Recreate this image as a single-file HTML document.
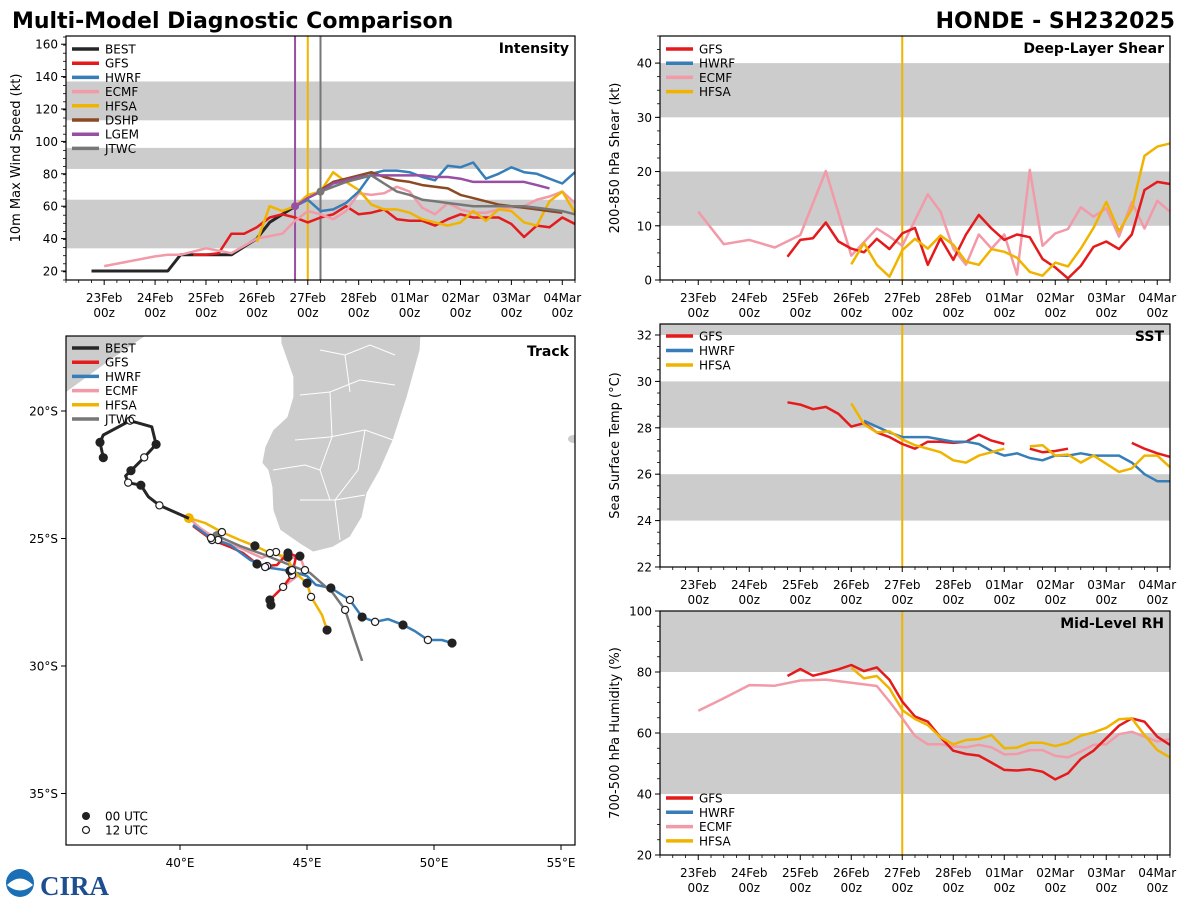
<!DOCTYPE html>
<html><head><meta charset="utf-8"><title>Multi-Model Diagnostic Comparison</title>
<style>
html,body{margin:0;padding:0;background:#fff;}
svg{display:block;font-family:"DejaVu Sans","Liberation Sans",sans-serif;}
</style></head>
<body>
<svg id="chart" xmlns="http://www.w3.org/2000/svg" width="1200" height="900" viewBox="0 0 1200 900">
<rect x="0" y="0" width="1200" height="900" fill="#fff"/>
<text x="12" y="28" font-size="22" font-weight="bold" fill="#000">Multi-Model Diagnostic Comparison</text>
<text x="1175" y="28" font-size="22" font-weight="bold" fill="#000" text-anchor="end">HONDE - SH232025</text>
<g>
<circle cx="20" cy="883" r="14" fill="#1a6fb5"/>
<path d="M7,885 Q20,872 33,885 Q20,896 7,885Z" fill="#fff"/>
<text x="40" y="895" font-size="27" font-weight="bold" fill="#1d4e8f" font-family="Liberation Serif, serif">CIRA</text>
</g>
</svg>
<script>
// ---------- shared time axis ----------
const dayLabels = ['23Feb','24Feb','25Feb','26Feb','27Feb','28Feb','01Mar','02Mar','03Mar','04Mar'];
const hourLabel = '00z';
// ---------- intensity (kt) ----------
const bestIntStart = -1;
const bestInt = [20,20,20,20,20,20,20,30,30,30,30,30,35,40,50,55,60];
const gfsIntStart = 7;
const gfsInt = [30,30,31,43,43,47,53,55,53,50,53,55,60,55,56,58,52,51,51,48,52,55,53,53,53,49,41,48,47,53,49];
const hwrfIntStart = 15;
const hwrfInt = [60,64,57,58,62,69,80,82,82,81,78,76,85,84,87,77,80,84,81,80,77,74,81];
const ecmfIntTimes = [0,4,5,6,8,10,12,14,15,16,17,18,19,20,21,22,23,24,25,26,27,28,29,30,31,32,33,34,35,36,37];
const ecmfInt = [23,29,30,30,34,31,40,43,51,57,55,52,57,68,67,68,72,69,59,55,62,58,56,56,58,59,60,64,66,69,62];
const hfsaIntStart = 12;
const hfsaInt = [38,60,57,60,67,69,81,75,70,61,58,58,56,52,50,48,50,57,51,58,57,50,48,63,69,56];
const dshpIntStart = 17;
const dshpInt = [70,75,77,79,81,78,76,75,73,72,71,67,65,63,61,60,59,58,57,56];
const lgemIntStart = 15;
const lgemInt = [60,65,69,74,76,78,79,79,79,79,79,78,78,77,75,75,75,75,75,73,71];
const jtwcIntStart = 17;
const jtwcInt = [69,72,75,77,79,74,69,67,64,63,62,61,60,60,60,60,60,59,58,57,55];
const intTicks = [20,40,60,80,100,120,140,160];
// ---------- shear (kt) ----------
const gfsShearStart = 7;
const gfsShear = [4.3,7.4,7.7,10.6,7.1,5.8,5.1,7.6,5.7,8.6,9.6,2.8,7.7,3.7,8.4,12,9.5,7.4,8.4,7.9,3.9,2.3,0.3,2.6,6.1,7.1,5.7,8.4,16.6,18.1,17.7];
const ecmfShearTimes = [0,2,4,6,8,10,12,14,15,16,18,19,20,21,22,23,24,25,26,27,28,29,30,31,32,33,34,35,36,37];
const ecmfShear = [12.6,6.6,7.4,6.0,8.3,20.1,4.5,9.5,8,6.3,15.8,12.6,5.8,2.8,8.4,5.8,8.4,1,20.3,6.3,8.6,9.4,13.4,11.7,13.2,8,14.4,9.5,14.6,12.6];
const hfsaShearStart = 12;
const hfsaShear = [2.9,6.8,2.8,0.6,5.5,7.6,5.8,8.2,6.5,3.4,2.8,5.7,5.2,4.1,1.5,0.8,3.2,2.5,5.8,9.6,14.4,9,13.1,22.9,24.6,25.2];
const shearTicks = [0,10,20,30,40];
// ---------- SST (C) ----------
const gfsSstStart = 7;
const gfsSst = [29.1,29.0,28.8,28.9,28.6,28.05,28.2,27.8,27.6,27.3,27.1,27.4,27.4,27.35,27.4,27.7,27.45,27.3,null,27.1,26.95,27.0,27.1,null,null,null,null,27.35,27.1,26.9,26.75];
const hwrfSstStart = 13;
const hwrfSst = [28.3,28.05,27.8,27.6,27.6,27.6,27.5,27.4,27.4,27.3,27.0,26.8,26.9,26.7,26.6,26.8,26.8,26.9,26.8,26.8,26.8,26.5,26.0,25.7,25.7];
const hfsaSstStart = 12;
const hfsaSst = [29.05,28.15,27.8,27.85,27.5,27.25,27.1,26.95,26.6,26.5,26.8,26.95,27.1,null,27.2,27.25,26.8,26.85,26.5,26.8,26.45,26.1,26.25,26.8,26.8,26.3];
const sstTicks = [22,24,26,28,30,32];
// ---------- RH (%) ----------
const gfsRhStart = 7;
const gfsRh = [78.7,81,78.8,79.8,80.9,82.3,80.3,81.5,77.4,70.3,65.4,63.7,58.6,54.2,53.1,52.6,50.3,47.9,47.7,48.1,47.3,44.8,46.8,51.5,54.2,58.3,62.4,64.8,63.7,58.8,56.1];
const ecmfRhTimes = [0,2,4,6,8,10,12,14,15,16,17,18,19,20,21,22,23,24,25,26,27,28,29,30,31,32,33,34,35,36,37];
const ecmfRh = [67.3,71.4,75.7,75.5,77.2,77.5,76.5,75.4,70.3,64.8,59,56.3,56.3,55.6,55.3,56.1,55.3,53,53.1,54.4,54.4,52.5,52,53.9,56.1,56.3,59.6,60.4,58.8,57.2,58];
const hfsaRhStart = 12;
const hfsaRh = [81.4,77.9,78.7,74.6,67.5,64.6,62.6,58.6,56.3,57.7,58,59.3,55,55.2,56.8,56.8,55.7,56.8,59.1,60.2,61.7,64.5,64.8,59.3,54.4,52];
const rhTicks = [20,40,60,80,100];
// ---------- track (lon E, lat S) ----------
const bestLon = [36.98,36.85,36.98,38.03,38.89,39.06,38.59,38.07,37.86,37.96,38.46,38.75,39.19,40.35];
const bestLat = [21.83,21.23,20.94,20.38,20.62,21.31,21.82,22.34,22.54,22.81,22.91,23.36,23.70,24.21];
const bestMark = ['f','f','','o','','f','o','f','','o','f','','o',''];
const gfsLon = [40.51,41.26,41.97,42.48,42.83,43.03,43.43,43.82,44.25,44.57,44.41,44.06,43.54,43.58];
const gfsLat = [24.51,25.06,25.33,25.57,25.84,26.00,26.08,26.04,25.57,25.69,26.43,26.90,27.41,27.61];
const gfsMark = ['', 'o','','','','f','o','','f','','o','','f','f'];
const hwrfLon = [40.51,41.22,41.97,42.76,43.35,44.33,45.0,45.35,45.94,46.69,47.17,47.68,48.19,48.78,49.25,49.76,50.31,50.71];
const hwrfLat = [24.47,24.98,25.25,25.84,26.12,26.27,26.47,26.82,26.94,27.41,28.08,28.27,28.16,28.39,28.63,28.98,28.98,29.1];
const hwrfMark = ['','o','','','o','f','','','f','o','f','o','','f','','o','','f'];
const ecmfLon = [40.35,40.79,41.5,42.36,43.23,43.78,44.13,44.72,44.92,44.06,43.62];
const ecmfLat = [24.2,24.59,25.06,25.37,25.76,25.53,25.84,25.69,26.24,26.9,27.33];
const ecmfMark = ['','','o','','','o','','f','o','o',''];
const hfsaLon = [40.35,40.98,41.65,42.36,42.95,43.54,44.25,44.41,45.0,45.16,45.59,45.79];
const hfsaLat = [24.2,24.39,24.75,25.06,25.29,25.57,25.73,26.24,26.75,27.29,28.0,28.59];
const hfsaMark = ['','','o','','f','o','f','o','f','o','','f'];
const jtwcLon = [41.46,42.36,43.35,44.33,45.12,46.02,46.5,46.89,47.17];
const jtwcLat = [24.9,25.29,25.65,26.04,26.35,27.14,27.8,28.98,29.8];
const jtwcMark = ['','','','','','','o','',''];
const lonTicks = [40,45,50,55];
const latTicks = [20,25,30,35];

const NS = 'http://www.w3.org/2000/svg';
const svg = document.getElementById('chart');
function mk(tag, attrs, parent){
  const e = document.createElementNS(NS, tag);
  for (const k in attrs) e.setAttribute(k, attrs[k]);
  (parent || svg).appendChild(e);
  return e;
}
const COL = {BEST:'#262626',GFS:'#e41a1c',HWRF:'#377eb8',ECMF:'#f29aa8',HFSA:'#f0b400',DSHP:'#8c4a22',LGEM:'#984ea3',JTWC:'#777777'};
const T0 = -3, T1 = 37;

function seriesPts(values, start, times){
  return values.map((v,i)=>({t: times ? times[i] : start + i, v:v}));
}

function tsPanel(cfg){
  const g = mk('g', {});
  
  
  const X = t => cfg.x0 + (t - T0) / (T1 - T0) * (cfg.x1 - cfg.x0);
  const Y = v => cfg.y1 - (v - cfg.ymin) / (cfg.ymax - cfg.ymin) * (cfg.y1 - cfg.y0);
  // bands
  cfg.bands.forEach(b=>{
    const top = Math.max(Y(b[1]), cfg.y0), bot = Math.min(Y(b[0]), cfg.y1);
    const r = mk('rect', {x:cfg.x0, y:top, width:cfg.x1-cfg.x0, height:bot-top, fill:'#cccccc'}, g);
    
    
  });
  // vertical lines
  cfg.vlines.forEach(vl=>{
    const l = mk('line', {x1:X(vl.t), x2:X(vl.t), y1:cfg.y0, y2:cfg.y1, stroke:vl.c, 'stroke-width':2}, g);
    
    
  });
  // series
  cfg.series.forEach(s=>{
    const pts = seriesPts(s.values, s.start, s.times);
    let d = '', pen = false;
    pts.forEach(p=>{
      if (p.v === null) { pen = false; return; }
      d += (pen ? 'L' : 'M') + X(p.t).toFixed(1) + ',' + Y(p.v).toFixed(1);
      pen = true;
    });
    const path = mk('path', {d:d, fill:'none', stroke:COL[s.id], 'stroke-width': s.id==='BEST'?3:2.5, 'stroke-linejoin':'round'}, g);
    
    
    if (s.dot){
      const p0 = pts[0];
      const c = mk('circle', {cx:X(p0.t), cy:Y(p0.v), r:4, fill:COL[s.id]}, g);
      
      
    }
  });
  // frame
  const fr = mk('rect', {x:cfg.x0, y:cfg.y0, width:cfg.x1-cfg.x0, height:cfg.y1-cfg.y0, fill:'none', stroke:'#000', 'stroke-width':1.2}, g);
  
  
  // y ticks
  cfg.yticks.forEach(v=>{
    const y = Y(v);
    const tl = mk('line', {x1:cfg.x0-5, x2:cfg.x0, y1:y, y2:y, stroke:'#000', 'stroke-width':1}, g);
    
    
    const tx = mk('text', {x:cfg.x0-8, y:y+4.5, 'font-size':12, 'text-anchor':'end', fill:'#000'}, g);
    
    
    tx.textContent = v;
  });
  for (let v = cfg.ymin; v <= cfg.ymax + 1e-6; v += cfg.minor){
    const y = Y(v);
    if (y < cfg.y0 - 0.5) continue;
    const ml = mk('line', {x1:cfg.x0-3, x2:cfg.x0, y1:y, y2:y, stroke:'#000', 'stroke-width':0.8}, g);
    
    
  }
  // x ticks
  for (let t = -3; t <= 37; t++){
    const major = t % 4 === 0 && t >= 0;
    const xl = mk('line', {x1:X(t), x2:X(t), y1:cfg.y1, y2:cfg.y1 + (major?5:3), stroke:'#000', 'stroke-width':major?1:0.8}, g);
    
    
  }
  dayLabels.forEach((lab,i)=>{
    const t = i*4;
    const a = mk('text', {x:X(t), y:cfg.y1+22, 'font-size':12, 'text-anchor':'middle', fill:'#000'}, g);
    
    
    a.textContent = lab;
    const b = mk('text', {x:X(t), y:cfg.y1+37, 'font-size':12, 'text-anchor':'middle', fill:'#000'}, g);
    
    
    b.textContent = hourLabel;
  });
  // y label
  const cy = (cfg.y0 + cfg.y1)/2;
  const yl = mk('text', {x:cfg.ylx, y:cy, 'font-size':13, 'text-anchor':'middle', fill:'#000', transform:'rotate(-90 '+cfg.ylx+' '+cy+')'}, g);
  
  
  yl.textContent = cfg.ylabel;
  // title
  const tt = mk('text', {x:cfg.x1-6, y:cfg.y0+17, 'font-size':14, 'font-weight':'bold', 'text-anchor':'end', fill:'#000'}, g);
  
  
  tt.textContent = cfg.title;
  // legend
  drawLegend(g, cfg.x0, cfg.legendY, cfg.legend, cfg.legendStep);
}

function drawLegend(g, x0, y, ids, step){
  const lg = mk('g', {}, g);
  
  
  ids.forEach((id,i)=>{
    const yy = y + i*step;
    const e = mk('g', {}, lg);
    
    
    const l = mk('line', {x1:x0+6, x2:x0+33, y1:yy, y2:yy, stroke:COL[id], 'stroke-width':3.5}, e);
    
    
    const t = mk('text', {x:x0+39, y:yy+4.5, 'font-size':12, fill:'#000'}, e);
    
    
    t.textContent = id;
  });
}

tsPanel({name:'intensity-panel', x0:66, x1:575, y0:36, y1:280, ymin:20-9/1.62, ymax:20+(271-36)/1.62,
  bands:[[34,64],[83,96],[113,137]], yticks:intTicks, minor:5, ylx:20, ylabel:'10m Max Wind Speed (kt)', title:'Intensity',
  vlines:[{t:15,c:COL.LGEM},{t:16,c:COL.HFSA},{t:17,c:COL.JTWC}],
  series:[
    {id:'BEST', values:bestInt, start:bestIntStart},
    {id:'GFS', values:gfsInt, start:gfsIntStart},
    {id:'ECMF', values:ecmfInt, times:ecmfIntTimes},
    {id:'HFSA', values:hfsaInt, start:hfsaIntStart},
    {id:'HWRF', values:hwrfInt, start:hwrfIntStart},
    {id:'DSHP', values:dshpInt, start:dshpIntStart},
    {id:'LGEM', values:lgemInt, start:lgemIntStart, dot:true},
    {id:'JTWC', values:jtwcInt, start:jtwcIntStart, dot:true}
  ],
  legend:['BEST','GFS','HWRF','ECMF','HFSA','DSHP','LGEM','JTWC'], legendY:49, legendStep:14.2});

tsPanel({name:'shear-panel', x0:660, x1:1170, y0:36, y1:280, ymin:0, ymax:45,
  bands:[[10,20],[30,40]], yticks:shearTicks, minor:2.5, ylx:619, ylabel:'200-850 hPa Shear (kt)', title:'Deep-Layer Shear',
  vlines:[{t:16,c:COL.HFSA}],
  series:[
    {id:'ECMF', values:ecmfShear, times:ecmfShearTimes},
    {id:'GFS', values:gfsShear, start:gfsShearStart},
    {id:'HFSA', values:hfsaShear, start:hfsaShearStart}
  ],
  legend:['GFS','HWRF','ECMF','HFSA'], legendY:49, legendStep:14.2});

tsPanel({name:'sst-panel', x0:660, x1:1170, y0:324, y1:567, ymin:22, ymax:22+(567-324)/23.2,
  bands:[[24,26],[28,30],[32,33]], yticks:sstTicks, minor:0.5, ylx:619, ylabel:'Sea Surface Temp (°C)', title:'SST',
  vlines:[{t:16,c:COL.HFSA}],
  series:[
    {id:'GFS', values:gfsSst, start:gfsSstStart},
    {id:'HWRF', values:hwrfSst, start:hwrfSstStart},
    {id:'HFSA', values:hfsaSst, start:hfsaSstStart}
  ],
  legend:['GFS','HWRF','HFSA'], legendY:336, legendStep:14.5});

tsPanel({name:'rh-panel', x0:660, x1:1170, y0:611, y1:855, ymin:20, ymax:100,
  bands:[[40,60],[80,100]], yticks:rhTicks, minor:5, ylx:619, ylabel:'700-500 hPa Humidity (%)', title:'Mid-Level RH',
  vlines:[{t:16,c:COL.HFSA}],
  series:[
    {id:'ECMF', values:ecmfRh, times:ecmfRhTimes},
    {id:'GFS', values:gfsRh, start:gfsRhStart},
    {id:'HFSA', values:hfsaRh, start:hfsaRhStart}
  ],
  legend:['GFS','HWRF','ECMF','HFSA'], legendY:798, legendStep:14.3});

// ---------- track panel ----------
(function(){
  const x0=66, x1=575, y0=336, y1=845;
  const LX = lon => 180 + (lon - 40) * 25.4;
  const LY = lat => 411 + (lat - 20) * 25.5;
  const g = mk('g', {});
  
  
  const clip = mk('clipPath', {id:'trkclip'}, g);
  mk('rect', {x:x0, y:y0, width:x1-x0, height:y1-y0}, clip);
  const land = mk('g', {'clip-path':'url(#trkclip)'}, g);
  
  
  const mad = mk('polygon', {points:'281,330 421,330 420,350 407,397 393,440 380,470 367,493 362,517 350,537 333,547 313,552 300,544 280,530 273,510 272,487 268,470 262,463 265,447 273,430 287,417 293,397 293,377 287,360 281,343', fill:'#cccccc', stroke:'#fff', 'stroke-width':0.8}, land);
  
  
  const bd = mk('path', {d:'M300,395 L330,392 L360,380 L395,385 M295,440 L330,437 L365,430 L393,440 M330,392 L332,437 L320,470 L330,500 M365,430 L358,470 L335,500 L340,540 M273,470 L305,465 L320,470 M300,500 L335,500 L365,495 M320,350 L345,355 L370,345 L395,355 M345,355 L350,392', fill:'none', stroke:'#fff', 'stroke-width':1}, land);
  
  
  const af = mk('polygon', {points:'66,336 145,336 110,360 66,392', fill:'#cccccc'}, land);
  
  
  const isl = mk('ellipse', {cx:574, cy:439, rx:6, ry:4, fill:'#cccccc'}, land);
  
  

  const tracks = [
    {id:'ECMF', lon:ecmfLon, lat:ecmfLat, mark:ecmfMark},
    {id:'GFS', lon:gfsLon, lat:gfsLat, mark:gfsMark},
    {id:'HWRF', lon:hwrfLon, lat:hwrfLat, mark:hwrfMark},
    {id:'JTWC', lon:jtwcLon, lat:jtwcLat, mark:jtwcMark, dot:true},
    {id:'HFSA', lon:hfsaLon, lat:hfsaLat, mark:hfsaMark, dot:true},
    {id:'BEST', lon:bestLon, lat:bestLat, mark:bestMark}
  ];
  const tg = mk('g', {'clip-path':'url(#trkclip)'}, g);
  tracks.forEach(s=>{
    const d = s.lon.map((lo,i)=>(i?'L':'M') + LX(lo).toFixed(1) + ',' + LY(s.lat[i]).toFixed(1)).join('');
    const p = mk('path', {d:d, fill:'none', stroke:COL[s.id], 'stroke-width':s.id==='BEST'?3:2.5, 'stroke-linejoin':'round'}, tg);
    
    
    if (s.dot){
      const c = mk('circle', {cx:LX(s.lon[0]), cy:LY(s.lat[0]), r:5, fill:COL[s.id]}, tg);
      
      
    }
  });
  tracks.forEach(s=>{
    s.mark.forEach((m,i)=>{
      if (!m) return;
      const c = mk('circle', {cx:LX(s.lon[i]), cy:LY(s.lat[i]), r:m==='f'?4:3.6, fill:m==='f'?'#222':'#fff', stroke:'#222', 'stroke-width':1.2}, tg);
      
      
    });
  });
  const fr = mk('rect', {x:x0, y:y0, width:x1-x0, height:y1-y0, fill:'none', stroke:'#000', 'stroke-width':1.2}, g);
  
  
  lonTicks.forEach(lo=>{
    const x = LX(lo);
    const l = mk('line', {x1:x, x2:x, y1:y1, y2:y1+5, stroke:'#000'}, g);
    
    
    const t = mk('text', {x:x, y:y1+22, 'font-size':12, 'text-anchor':'middle', fill:'#000'}, g);
    
    
    t.textContent = lo + '°E';
  });
  latTicks.forEach(la=>{
    const y = LY(la);
    const l = mk('line', {x1:x0-5, x2:x0, y1:y, y2:y, stroke:'#000'}, g);
    
    
    const t = mk('text', {x:x0-8, y:y+4.5, 'font-size':12, 'text-anchor':'end', fill:'#000'}, g);
    
    
    t.textContent = la + '°S';
  });
  const tt = mk('text', {x:x1-6, y:y0+20, 'font-size':14, 'font-weight':'bold', 'text-anchor':'end', fill:'#000'}, g);
  
  
  tt.textContent = 'Track';
  drawLegend(g, x0, 348, ['BEST','GFS','HWRF','ECMF','HFSA','JTWC'], 14.2);
  const k1 = mk('circle', {cx:86, cy:816, r:4, fill:'#222'}, g);
  
  
  const k1t = mk('text', {x:105, y:820.5, 'font-size':12, fill:'#000'}, g);
  
  
  k1t.textContent = '00 UTC';
  const k2 = mk('circle', {cx:86, cy:830, r:3.5, fill:'#fff', stroke:'#222', 'stroke-width':1.2}, g);
  
  
  const k2t = mk('text', {x:105, y:834.5, 'font-size':12, fill:'#000'}, g);
  
  
  k2t.textContent = '12 UTC';
})();
</script>
</body></html>
